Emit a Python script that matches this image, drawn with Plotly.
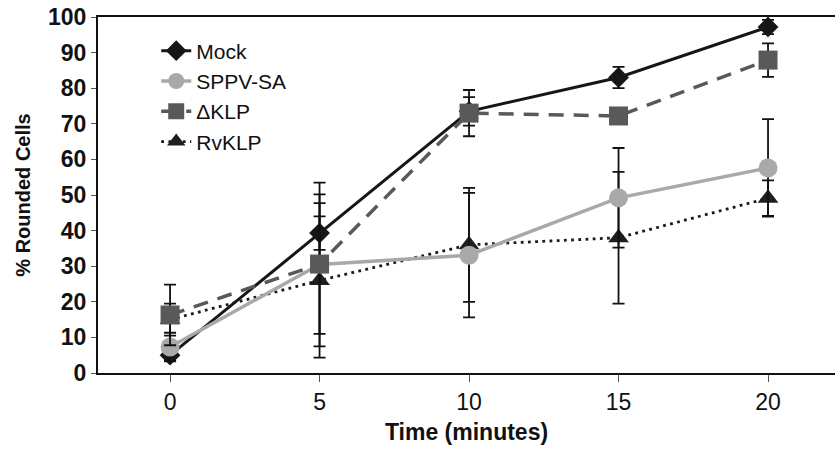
import plotly.graph_objects as go

time_min = [0, 5, 10, 15, 20]

mock = [5.0, 39.3, 73.5, 83.0, 97.2]
mock_err = [1.5, 4.7, 4.0, 3.0, 2.0]

sppv = [7.3, 30.5, 33.1, 49.2, 57.6]
sppv_err = [4.0, 23.0, 17.5, 14.0, 13.7]

dklp = [16.3, 30.6, 73.0, 72.2, 87.9]
dklp_err = [8.5, 19.6, 6.5, 1.5, 4.7]

rvklp = [15.0, 26.0, 36.0, 38.0, 49.1]
rvklp_err = [4.5, 21.7, 16.0, 18.5, 5.0]

y_ticks = [0, 10, 20, 30, 40, 50, 60, 70, 80, 90, 100]
x_ticks = [0, 5, 10, 15, 20]

FONT = "Liberation Sans, Arial, sans-serif"
ERR = dict(type="data", visible=True, color="#111111", thickness=1.8, width=6)

fig = go.Figure()

fig.add_trace(go.Scatter(
    x=time_min, y=mock, name="Mock", mode="lines+markers", legendrank=1,
    line=dict(color="#161616", width=3),
    marker=dict(symbol="diamond", size=16, color="#161616"),
    error_y=dict(array=mock_err, **ERR),
))
fig.add_trace(go.Scatter(
    x=time_min, y=rvklp, name="RvKLP", mode="lines+markers", legendrank=4,
    line=dict(color="#1a1a1a", width=2.8, dash="2.8px,4.4px"),
    marker=dict(symbol="triangle-up", size=18, color="#1e1e1e"),
    error_y=dict(array=rvklp_err, **ERR),
))
fig.add_trace(go.Scatter(
    x=time_min, y=sppv, name="SPPV-SA", mode="lines+markers", legendrank=2,
    line=dict(color="#a9a9a9", width=3.5),
    marker=dict(symbol="circle", size=19, color="#a9a9a9"),
    error_y=dict(array=sppv_err, **ERR),
))
fig.add_trace(go.Scatter(
    x=time_min, y=dklp, name="\u0394KLP", mode="lines+markers", legendrank=3,
    line=dict(color="#595959", width=3.5, dash="15px,10px"),
    marker=dict(symbol="square", size=19, color="#595959"),
    error_y=dict(array=dklp_err, **ERR),
))

fig.update_layout(
    width=835, height=449,
    margin=dict(l=98, r=0, t=17, b=76),
    paper_bgcolor="white", plot_bgcolor="white",
    font=dict(family=FONT, color="#111111"),
    showlegend=True,
    legend=dict(
        x=0.079, y=0.962, xanchor="left", yanchor="top",
        font=dict(family=FONT, size=21, color="#111111"),
        bgcolor="rgba(0,0,0,0)", tracegroupgap=0, itemwidth=30,
    ),
    xaxis=dict(
        range=[-2.41, 22.24], tickvals=x_ticks, automargin=False,
        showgrid=False, zeroline=False,
        showline=True, linecolor="#111111", linewidth=2, mirror=True,
        ticks="outside", ticklen=7, tickcolor="#555555", tickwidth=1,
        tickfont=dict(family=FONT, size=23, color="#111111"),
        title=dict(text="<b>Time (minutes)</b>", font=dict(family=FONT, size=23, color="#111111"), standoff=10),
    ),
    yaxis=dict(
        range=[0, 100], tickvals=y_ticks, automargin=False,
        ticktext=["<b>%d</b>" % v for v in y_ticks],
        showgrid=False, zeroline=False,
        showline=True, linecolor="#111111", linewidth=2,
        ticks="outside", ticklen=5, tickcolor="#555555", tickwidth=1,
        tickfont=dict(family=FONT, size=23, color="#111111"),
        title=dict(text="<b>% Rounded Cells</b>", font=dict(family=FONT, size=20, color="#111111"), standoff=12),
    ),
)

fig.write_html(
    "out.html",
    config={"displayModeBar": False},
    post_script="document.body.style.margin='0';document.body.style.padding='0';document.body.style.overflow='hidden';",
)
